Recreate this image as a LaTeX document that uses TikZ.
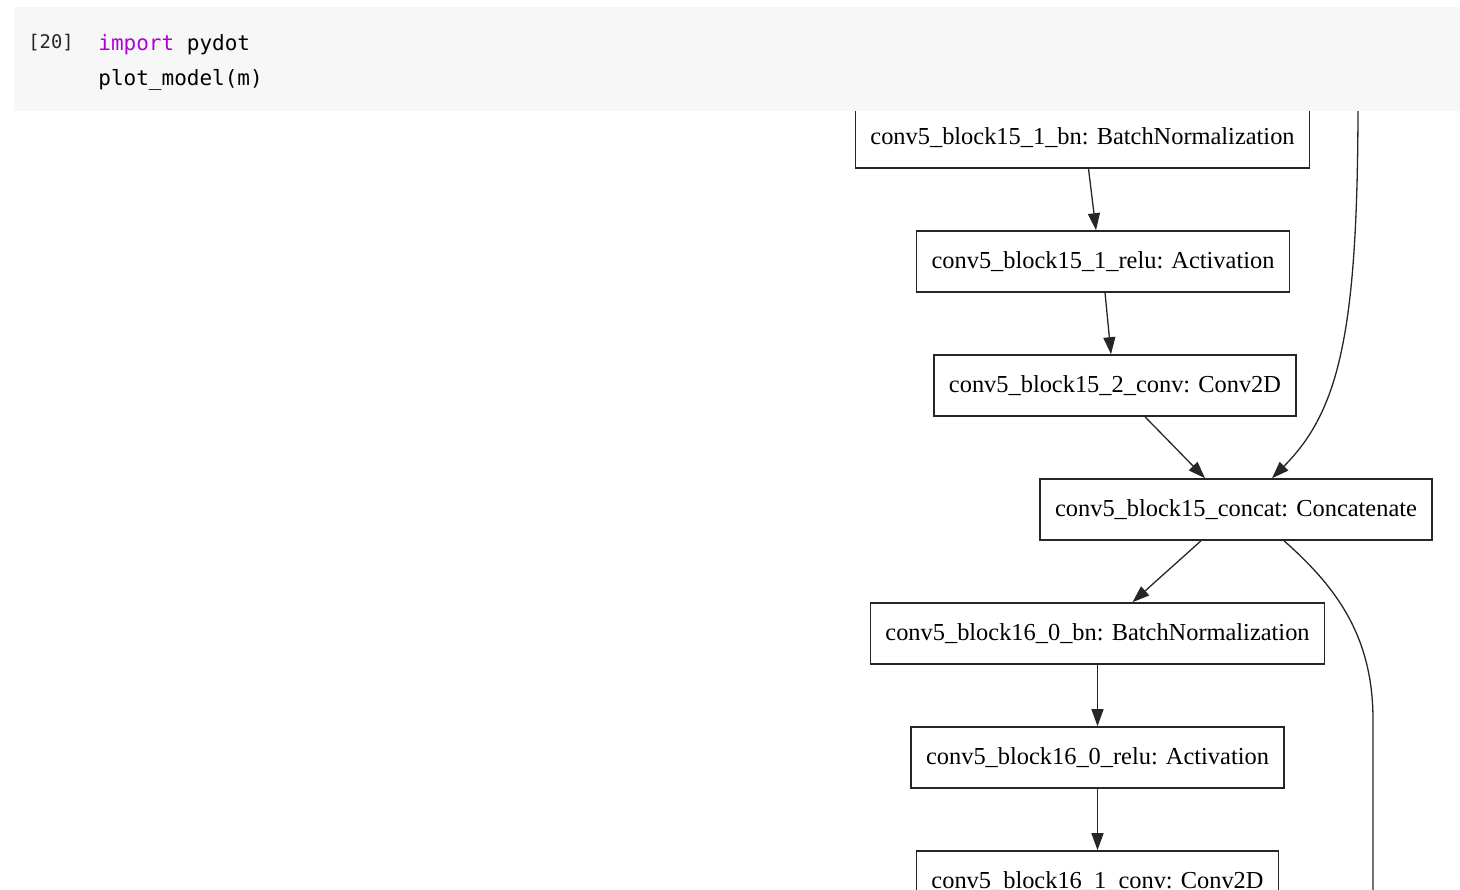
\documentclass[tikz,border=0pt]{standalone}
\usepackage{fontspec}
\setmainfont{Liberation Serif}
\setmonofont{DejaVu Sans Mono}
\usetikzlibrary{positioning, arrows.meta, calc}
\definecolor{cellbg}{HTML}{F7F7F7}
\definecolor{kwpurple}{HTML}{AF00DB}

\begin{document}
\begin{tikzpicture}[x=0.5pt, y=-0.5pt,
        node distance=30.7pt,
        layer/.style={draw=black!85, line width=0.7pt, rectangle, minimum height=30.6pt,
                      inner xsep=7.5pt, font=\fontsize{12.2}{15}\selectfont},
        arr/.style={-{Triangle[length=8.5pt, width=6pt]}, line width=0.65pt, black!85},
        code/.style={font=\fontsize{10.5}{12}\selectfont\ttfamily, inner sep=0pt, anchor=base west}]

      \useasboundingbox (0,0) rectangle (1460,889);
      \clip (0,0) rectangle (1460,889);

      \node[layer] (bn15) at (1082.5,137.5) {conv5\_block15\_1\_bn: BatchNormalization};
      \node[layer, below=of bn15, xshift=10.25pt] (relu15) {conv5\_block15\_1\_relu: Activation};
      \node[layer, below=of relu15, xshift=6pt] (conv15) {conv5\_block15\_2\_conv: Conv2D};
      \node[layer, below=of conv15, xshift=60.5pt] (cat15) {conv5\_block15\_concat: Concatenate};
      \node[layer, below=of cat15, xshift=-69.25pt] (bn16) {conv5\_block16\_0\_bn: BatchNormalization};
      \node[layer, below=of bn16] (relu16) {conv5\_block16\_0\_relu: Activation};
      \node[layer, below=of relu16] (conv16) {conv5\_block16\_1\_conv: Conv2D};

      \coordinate (skipin) at (1358,100);
      \coordinate (skipout) at (1373,900);

      \draw[arr] ($(bn15.south)+(6,0)$) -- ($(relu15.north)+(-7,0)$);
      \draw[arr] ($(relu15.south)+(2,0)$) -- ($(conv15.north)+(-4,0)$);
      \draw[arr] ($(conv15.south)+(30,0)$) -- ($(cat15.north)+(-31,0)$);
      \draw[arr] (skipin) .. controls (1358,330) and (1340,410) .. ($(cat15.north)+(36,0)$);
      \draw[arr] ($(cat15.south)+(-35,0)$) -- ($(bn16.north)+(35,0)$);
      \draw[arr] (bn16) -- (relu16);
      \draw[arr] (relu16) -- (conv16);
      \draw[line width=0.65pt, black!85] ($(cat15.south)+(48,0)$) .. controls (1340,590) and (1373,640) .. (1373,720) -- (skipout);

      % notebook cell on top
      \fill[cellbg] (14,7) rectangle (1460,111);
      \node[code, text=black!85, font=\fontsize{9.4}{12}\selectfont\ttfamily] (cellno) at (28,48) {[20]};
      \node[code] (line1) at (98,50) {{\color{kwpurple}import} pydot};
      \node[code] (line2) at (98,85) {plot\_model(m)};
    \end{tikzpicture}
\end{document}
